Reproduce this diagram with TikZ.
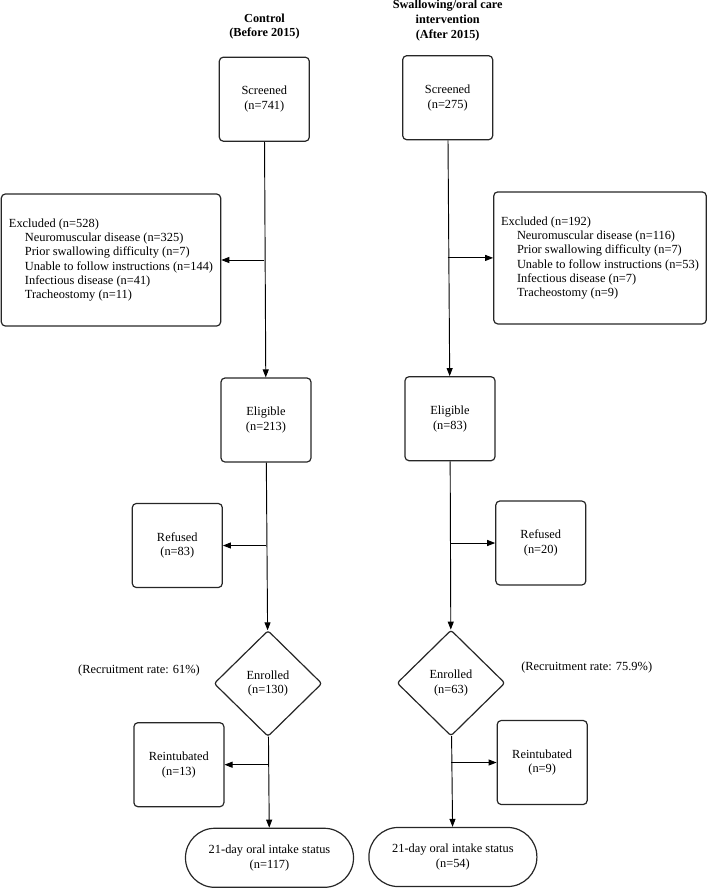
\documentclass[tikz,border=0pt]{standalone}
\usepackage{fontspec}
\setmainfont{Liberation Serif}
\usetikzlibrary{arrows.meta, shapes.geometric, calc}

\begin{document}
\begin{tikzpicture}[
  x=0.75pt, y=-0.75pt,
  every node/.style={font=\fontsize{9.3}{11}\selectfont},
  box/.style={draw=black!85, line width=0.9pt, rounded corners=3pt, minimum width=67.5pt, minimum height=63pt, align=center, inner sep=2pt},
  excl/.style={box, align=left, minimum height=99pt, font=\fontsize{9.3}{10.7}\selectfont},
  decision/.style={diamond, draw=black!85, line width=0.9pt, rounded corners=2pt, minimum width=81pt, minimum height=79.5pt, inner sep=0pt, align=center},
  outcome/.style={box, rounded corners=22pt, minimum width=126pt, minimum height=44.3pt},
  heading/.style={font=\bfseries\fontsize{9.2}{11}\selectfont, align=center},
  arrow/.style={-{Triangle[length=6pt, width=4.5pt]}, line width=0.7pt, draw=black}
]
\useasboundingbox (0,0) rectangle (709,890);

% Column headings
\node[heading] (headC) at (264.5, 26.7) {Control\\(Before 2015)};
\node[heading] (headS) at (447.7, 20.7) {Swallowing/oral care\\intervention\\(After 2015)};

% Screened
\node[box] (scrC) at (264.3, 99.2) {Screened\\(n=741)};
\node[box] (scrS) at (447.7, 97.7) {Screened\\(n=275)};

% Excluded
\node[excl, minimum width=164.5pt] (exclC) at (111, 260)
  {Excluded (n=528)\\
   \hspace*{12pt}Neuromuscular disease (n=325)\\
   \hspace*{12pt}Prior swallowing difficulty (n=7)\\
   \hspace*{12pt}Unable to follow instructions (n=144)\\
   \hspace*{12pt}Infectious disease (n=41)\\
   \hspace*{12pt}Tracheostomy (n=11)};
\node[excl, minimum width=159.4pt] (exclS) at (600, 257.9)
  {Excluded (n=192)\\
   \hspace*{12pt}Neuromuscular disease (n=116)\\
   \hspace*{12pt}Prior swallowing difficulty (n=7)\\
   \hspace*{12pt}Unable to follow instructions (n=53)\\
   \hspace*{12pt}Infectious disease (n=7)\\
   \hspace*{12pt}Tracheostomy (n=9)};

% Eligible
\node[box] (eliC) at (266, 420) {Eligible\\(n=213)};
\node[box] (eliS) at (450, 418.7) {Eligible\\(n=83)};

% Refused
\node[box] (refC) at (177.3, 545.5) {Refused\\(n=83)};
\node[box] (refS) at (540.8, 543) {Refused\\(n=20)};

% Enrolled
\node[decision] (enrC) at (268, 683.5) {Enrolled\\(n=130)};
\node[decision] (enrS) at (451, 683) {Enrolled\\(n=63)};
\node (rateC) at (139, 670.7) {(Recruitment rate: 61\%)};
\node (rateS) at (586.7, 667.3) {(Recruitment rate: 75.9\%)};

% Reintubated
\node[box] (reiC) at (178.9, 764.7) {Reintubated\\(n=13)};
\node[box] (reiS) at (542.2, 762.5) {Reintubated\\(n=9)};

% Outcome
\node[outcome] (endC) at (269.5, 857.8) {21-day oral intake status\\(n=117)};
\node[outcome] (endS) at (452.9, 857) {21-day oral intake status\\(n=54)};

% Main flow
\draw[arrow] (scrC) -- (eliC);
\draw[arrow] (eliC) -- (enrC);
\draw[arrow] (enrC) -- (endC);
\draw[arrow] (scrS) -- (eliS);
\draw[arrow] (eliS) -- (enrS);
\draw[arrow] (enrS) -- (endS);

% Side branches
\draw[arrow] (scrC.south |- exclC.east) -- (exclC.east);
\draw[arrow] (eliC.south |- refC.east) -- (refC.east);
\draw[arrow] (enrC.south |- reiC.east) -- (reiC.east);
\draw[arrow] (scrS.south |- exclS.west) -- (exclS.west);
\draw[arrow] (eliS.south |- refS.west) -- (refS.west);
\draw[arrow] (enrS.south |- reiS.west) -- (reiS.west);

\end{tikzpicture}
\end{document}
